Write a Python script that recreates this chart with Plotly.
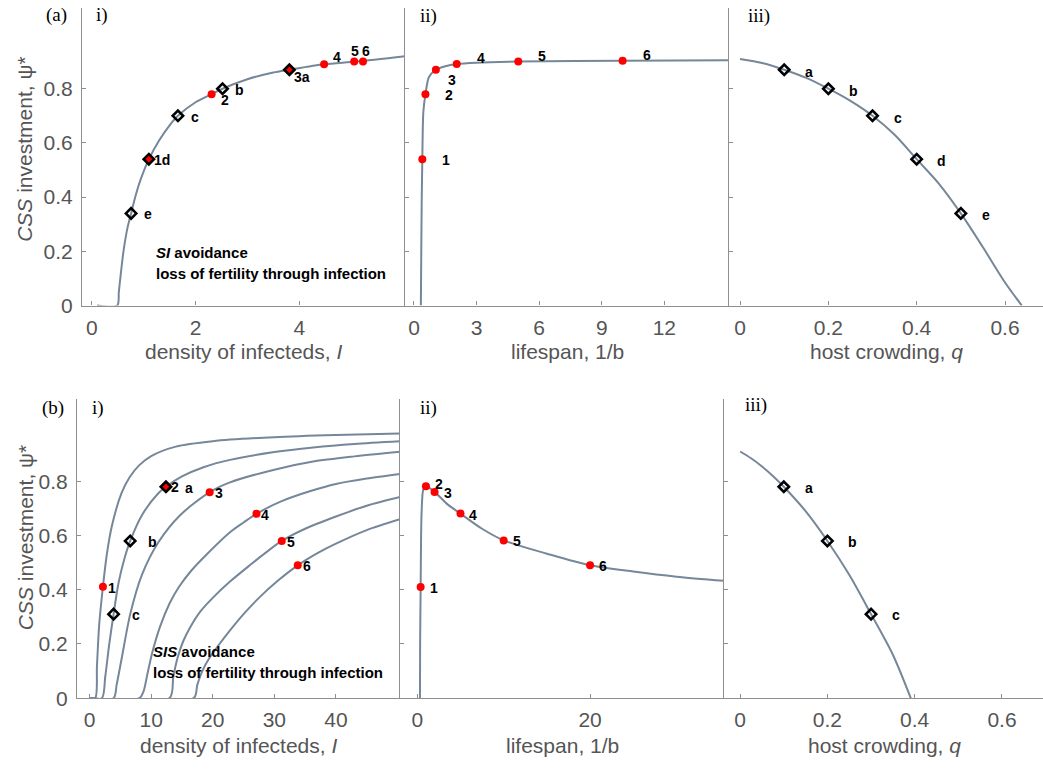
import plotly.graph_objects as go

W, H = 1043, 769

# ---------------- data: panel (a) i) ----------------
ai_curve_I = [0.10, 0.49, 0.52, 0.56, 0.61, 0.68, 0.757, 0.85, 0.95, 1.10, 1.30, 1.50,
              1.66, 2.00, 2.31, 2.52, 3.00, 3.50, 3.81, 4.48, 5.10, 6.04]
ai_curve_psi = [0.0, 0.0, 0.05, 0.12, 0.20, 0.28, 0.34, 0.41, 0.47, 0.54, 0.61, 0.665,
                0.70, 0.75, 0.78, 0.80, 0.835, 0.86, 0.87, 0.89, 0.90, 0.92]
ai_dot_I = [1.10, 2.31, 3.81, 4.48, 5.06, 5.23]
ai_dot_psi = [0.54, 0.78, 0.87, 0.89, 0.90, 0.90]
ai_dot_labels = ["1d", "2", "3a", "4", "5", "6"]
ai_dia_I = [3.81, 2.52, 1.66, 1.10, 0.757]
ai_dia_psi = [0.87, 0.80, 0.70, 0.54, 0.34]
ai_dia_labels = ["", "b", "c", "", "e"]

# ---------------- data: panel (a) ii) ----------------
aii_curve_L = [0.33, 0.35, 0.37, 0.40, 0.45, 0.55, 0.72, 1.05, 1.50, 2.05, 3.0, 5.0, 10.0, 15.1]
aii_curve_psi = [0.0, 0.20, 0.376, 0.54, 0.715, 0.78, 0.843, 0.870, 0.883, 0.891, 0.896, 0.90, 0.903, 0.905]
aii_dot_L = [0.40, 0.55, 1.05, 2.05, 5.0, 10.0]
aii_dot_psi = [0.54, 0.78, 0.870, 0.891, 0.90, 0.903]
aii_dot_labels = ["1", "2", "3", "4", "5", "6"]

# ---------------- data: panel (a) iii) ----------------
aiii_curve_q = [0.0, 0.05, 0.10, 0.15, 0.20, 0.25, 0.30, 0.35, 0.40, 0.45, 0.50, 0.55, 0.60, 0.638]
aiii_curve_psi = [0.91, 0.895, 0.87, 0.84, 0.80, 0.755, 0.70, 0.63, 0.54, 0.45, 0.34, 0.215, 0.085, 0.0]
aiii_dia_q = [0.1, 0.2, 0.3, 0.4, 0.5]
aiii_dia_psi = [0.87, 0.80, 0.70, 0.54, 0.34]
aiii_dia_labels = ["a", "b", "c", "d", "e"]

# ---------------- data: panel (b) i) ----------------
bi_curves_I = [
    [0, 0.92, 1.2, 1.57, 2.17, 2.8, 3.63, 5.2, 6.5, 8.0, 10, 14, 20, 30, 40, 50.4],
    [0, 2.0, 2.55, 3.2, 3.9, 4.7, 5.6, 6.6, 8.5, 11.2, 12.4, 15, 18.5, 22.8, 30, 36.3, 43, 50.4],
    [0, 3.9, 4.4, 5.25, 6.6, 8.5, 11.2, 14.7, 19.5, 22.8, 30, 36.3, 43, 50.4],
    [0, 8.1, 8.75, 9.4, 10.2, 11.46, 13, 14.5, 16.5, 19, 22.8, 25, 27.1, 31, 36, 40, 45, 50.4],
    [0, 12.97, 13.6, 14.3, 15.2, 16.3, 18, 20, 22.8, 26, 28.5, 31.2, 35, 40, 45, 50.4],
    [0, 16.9, 17.5, 18.3, 19.5, 21, 22.8, 25, 27.5, 30.5, 33.8, 37, 40, 45, 50.4],
]
bi_curves_psi = [
    [0, 0, 0.12, 0.273, 0.411, 0.53, 0.636, 0.757, 0.815, 0.858, 0.893, 0.928, 0.948, 0.963, 0.971, 0.976],
    [0, 0, 0.08, 0.20, 0.31, 0.425, 0.51, 0.58, 0.675, 0.757, 0.78, 0.818, 0.852, 0.879, 0.908, 0.925, 0.938, 0.948],
    [0, 0, 0.05, 0.151, 0.31, 0.455, 0.576, 0.675, 0.76, 0.796, 0.843, 0.873, 0.892, 0.909],
    [0, 0, 0.024, 0.09, 0.17, 0.265, 0.35, 0.41, 0.47, 0.53, 0.612, 0.648, 0.68, 0.725, 0.765, 0.79, 0.81, 0.827],
    [0, 0, 0.08, 0.15, 0.21, 0.26, 0.32, 0.37, 0.43, 0.49, 0.535, 0.58, 0.625, 0.67, 0.71, 0.742],
    [0, 0, 0.05, 0.10, 0.15, 0.197, 0.25, 0.31, 0.37, 0.432, 0.49, 0.535, 0.57, 0.62, 0.66],
]
bi_dot_I = [2.17, 12.4, 19.5, 27.1, 31.2, 33.8]
bi_dot_psi = [0.411, 0.78, 0.76, 0.68, 0.58, 0.49]
bi_dot_labels = ["1", "2", "3", "4", "5", "6"]
bi_dia_I = [12.4, 6.6, 3.9]
bi_dia_psi = [0.78, 0.58, 0.31]
bi_dia_labels = ["a", "b", "c"]

# ---------------- data: panel (b) ii) ----------------
bii_curve_L = [0.31, 0.33, 0.39, 0.50, 0.70, 1.0, 2.0, 3.5, 5.0, 7.5, 10, 15, 20, 25, 30, 35.5]
bii_curve_psi = [0.0, 0.20, 0.41, 0.685, 0.77, 0.782, 0.761, 0.715, 0.681, 0.625, 0.582, 0.533, 0.49, 0.467, 0.448, 0.433]
bii_dot_L = [0.39, 1.0, 2.0, 5.0, 10.0, 20.0]
bii_dot_psi = [0.41, 0.782, 0.761, 0.681, 0.582, 0.49]
bii_dot_labels = ["1", "2", "3", "4", "5", "6"]

# ---------------- data: panel (b) iii) ----------------
biii_curve_q = [0.0, 0.025, 0.05, 0.075, 0.10, 0.15, 0.20, 0.25, 0.30, 0.35, 0.391]
biii_curve_psi = [0.91, 0.885, 0.855, 0.82, 0.78, 0.69, 0.58, 0.455, 0.31, 0.16, 0.0]
biii_dia_q = [0.1, 0.2, 0.3]
biii_dia_psi = [0.78, 0.58, 0.31]
biii_dia_labels = ["a", "b", "c"]

# tick values
ai_xticks = [0, 2, 4]
aii_xticks = [0, 3, 6, 9, 12]
q_xticks = [0, 0.2, 0.4, 0.6]
bi_xticks = [0, 10, 20, 30, 40]
bii_xticks = [0, 20]
y_ticks = [0, 0.2, 0.4, 0.6, 0.8]

# ---------------- styling ----------------
CURVE = "#76879a"
AXC = "#8f8f8f"
TXT = "#555555"
SANS = "Liberation Sans, Arial, Helvetica, sans-serif"
SERIF = "Liberation Serif, Times New Roman, serif"


def px_x(p):
    return p / W


def px_y(p):
    return 1 - p / H


fig = go.Figure()


def curve(x, y, ax):
    fig.add_trace(go.Scatter(x=x, y=y, mode="lines", xaxis="x" + ax, yaxis="y" + ax,
                             line=dict(color=CURVE, width=2, shape="spline", smoothing=0.8),
                             hoverinfo="skip", showlegend=False))


def dots(x, y, ax):
    fig.add_trace(go.Scatter(x=x, y=y, mode="markers", xaxis="x" + ax, yaxis="y" + ax,
                             marker=dict(color="#ff0000", size=8, line=dict(width=0)),
                             showlegend=False))


def diamonds(x, y, ax):
    fig.add_trace(go.Scatter(x=x, y=y, mode="markers", xaxis="x" + ax, yaxis="y" + ax,
                             marker=dict(symbol="diamond-open", color="black", size=8,
                                         line=dict(color="black", width=2.6)),
                             showlegend=False))


annotations = []


def labels(xs, ys, texts, offs, ax):
    for x, y, t, (dx, dy) in zip(xs, ys, texts, offs):
        if not t:
            continue
        annotations.append(dict(x=x, y=y, xref="x" + ax, yref="y" + ax, text="<b>" + t + "</b>",
                                showarrow=False, xanchor="center", yanchor="middle",
                                xshift=dx, yshift=-dy,
                                font=dict(family=SANS, size=14, color="black")))


curve(ai_curve_I, ai_curve_psi, "")
dots(ai_dot_I, ai_dot_psi, "")
diamonds(ai_dia_I, ai_dia_psi, "")
labels(ai_dot_I, ai_dot_psi, ai_dot_labels, [(13, 1), (13, 6), (13, 7), (13, -7), (1, -11), (3, -11)], "")
labels(ai_dia_I, ai_dia_psi, ai_dia_labels, [(0, 0), (17, 1), (17, 1), (0, 0), (17, 1)], "")

curve(aii_curve_L, aii_curve_psi, "2")
dots(aii_dot_L, aii_dot_psi, "2")
labels(aii_dot_L, aii_dot_psi, aii_dot_labels, [(24, 1), (24, 1), (16, 10), (24, -6), (24, -6), (24, -6)], "2")

curve(aiii_curve_q, aiii_curve_psi, "3")
diamonds(aiii_dia_q, aiii_dia_psi, "3")
labels(aiii_dia_q, aiii_dia_psi, aiii_dia_labels, [(25, 2)] * 5, "3")

for cx, cy in zip(bi_curves_I, bi_curves_psi):
    curve(cx, cy, "4")
dots(bi_dot_I, bi_dot_psi, "4")
diamonds(bi_dia_I, bi_dia_psi, "4")
labels(bi_dot_I, bi_dot_psi, bi_dot_labels, [(9, 1), (9, 0), (9, 1), (9, 1), (9, 1), (9, 1)], "4")
labels(bi_dia_I, bi_dia_psi, bi_dia_labels, [(23, 1), (22, 1), (22, 1)], "4")

curve(bii_curve_L, bii_curve_psi, "5")
dots(bii_dot_L, bii_dot_psi, "5")
labels(bii_dot_L, bii_dot_psi, bii_dot_labels, [(13, 1), (13, -2), (13, 1), (13, 1), (13, 1), (13, 1)], "5")

curve(biii_curve_q, biii_curve_psi, "6")
diamonds(biii_dia_q, biii_dia_psi, "6")
labels(biii_dia_q, biii_dia_psi, biii_dia_labels, [(25, 1)] * 3, "6")


def xaxis(p0, p1, rng, ticks):
    return dict(domain=[px_x(p0), px_x(p1)], range=rng, tickvals=ticks,
                ticktext=[("%g" % t) for t in ticks],
                showline=True, linecolor=AXC, linewidth=1.2, ticks="inside", ticklen=4,
                tickcolor=AXC, tickwidth=1, showgrid=False, zeroline=False,
                tickfont=dict(family=SANS, size=21, color=TXT), ticklabelstandoff=3,
                fixedrange=True)


def yaxis(top, bottom, rng, labels_on, anchor):
    return dict(domain=[px_y(bottom), px_y(top)], range=rng, tickvals=y_ticks,
                ticktext=[("%g" % t) for t in y_ticks], showticklabels=labels_on,
                showline=True, linecolor=AXC, linewidth=1.2, ticks="inside", ticklen=4,
                tickcolor=AXC, tickwidth=1, showgrid=False, zeroline=False,
                tickfont=dict(family=SANS, size=21, color=TXT), ticklabelstandoff=4,
                anchor=anchor, fixedrange=True)


TOP_T, TOP_B = 8, 310
BOT_T, BOT_B = 405, 708.3
top_rng = [0, (TOP_B - TOP_T) / 275.0]
bot_rng = [0, (BOT_B - BOT_T) / 275.0]

layout = dict(
    width=W, height=H, margin=dict(l=0, r=0, t=0, b=0),
    paper_bgcolor="white", plot_bgcolor="white", showlegend=False,
    xaxis=dict(xaxis(82, 405, [-0.19, 6.04], ai_xticks), anchor="y"),
    yaxis=yaxis(TOP_T, TOP_B, top_rng, True, "x"),
    xaxis2=dict(xaxis(405, 729, [-0.43, 15.1], aii_xticks), anchor="y2"),
    yaxis2=yaxis(TOP_T, TOP_B, top_rng, False, "x2"),
    xaxis3=dict(xaxis(729, 1043, [-0.025, 0.686], q_xticks), anchor="y3"),
    yaxis3=yaxis(TOP_T, TOP_B, top_rng, False, "x3"),
    xaxis4=dict(xaxis(77, 400, [-2.04, 50.4], bi_xticks), anchor="y4"),
    yaxis4=yaxis(BOT_T, BOT_B, bot_rng, True, "x4"),
    xaxis5=dict(xaxis(400, 724, [-2.0, 35.5], bii_xticks), anchor="y5"),
    yaxis5=yaxis(BOT_T, BOT_B, bot_rng, False, "x5"),
    xaxis6=dict(xaxis(724, 1043, [-0.037, 0.694], q_xticks), anchor="y6"),
    yaxis6=yaxis(BOT_T, BOT_B, bot_rng, False, "x6"),
)


def paper_text(text, x, y, size, family, color="black", angle=0, xanchor="center"):
    annotations.append(dict(x=px_x(x), y=px_y(y), xref="paper", yref="paper", text=text,
                            showarrow=False, xanchor=xanchor, yanchor="middle", textangle=angle,
                            font=dict(family=family, size=size, color=color)))


for t, x, y in [("(a)", 56, 15), ("i)", 102, 15), ("ii)", 428, 16), ("iii)", 759, 16),
                ("(b)", 53, 414), ("i)", 97.5, 414), ("ii)", 428, 414), ("iii)", 756, 411)]:
    paper_text(t, x, y, 19, SERIF)

paper_text("<i>CSS</i> investment, ψ*", 25, 152, 21, SANS, TXT, -90)
paper_text("<i>CSS</i> investment, ψ*", 25, 546, 21, SANS, TXT, -90)
paper_text("density of infecteds, <i>I</i>", 243, 357, 21, SANS, TXT)
paper_text("lifespan, 1/b", 567, 357, 21, SANS, TXT)
paper_text("host crowding, <i>q</i>", 886, 357, 21, SANS, TXT)
paper_text("density of infecteds, <i>I</i>", 238, 756, 21, SANS, TXT)
paper_text("lifespan, 1/b", 562, 756, 21, SANS, TXT)
paper_text("host crowding, <i>q</i>", 884, 756, 21, SANS, TXT)

paper_text("<b><i>SI</i> avoidance</b>", 154, 256, 15, SANS, "black", 0, "left")
paper_text("<b>loss of fertility through infection</b>", 154, 277, 15, SANS, "black", 0, "left")
paper_text("<b><i>SIS</i> avoidance</b>", 151, 661, 15, SANS, "black", 0, "left")
paper_text("<b>loss of fertility through infection</b>", 151, 682, 15, SANS, "black", 0, "left")

layout["annotations"] = annotations
fig.update_layout(**layout)
fig.write_html("out.html")
